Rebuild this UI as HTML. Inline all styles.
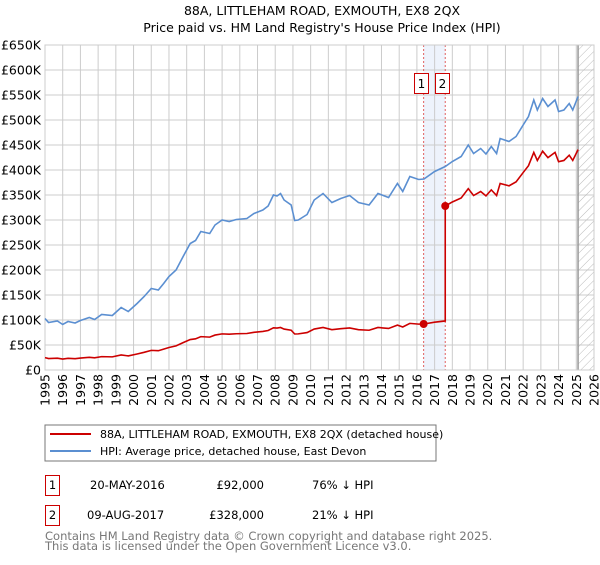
<!DOCTYPE html>
<html><head><meta charset="utf-8"><style>
body{margin:0;background:#fff;font-family:"Liberation Sans","DejaVu Sans",sans-serif;}
</style></head><body>
<svg id="c" width="600" height="560" xmlns="http://www.w3.org/2000/svg" font-family="DejaVu Sans, Liberation Sans, sans-serif">
<defs>
<pattern id="hatch" width="6" height="6" patternUnits="userSpaceOnUse" patternTransform="rotate(45)"><line x1="0" y1="0" x2="0" y2="6" stroke="#bbb" stroke-width="1"/></pattern>
</defs>
<text x="322" y="15" text-anchor="middle" font-size="12.5">88A, LITTLEHAM ROAD, EXMOUTH, EX8 2QX</text>
<text x="322" y="32" text-anchor="middle" font-size="12.5">Price paid vs. HM Land Registry's House Price Index (HPI)</text>
<g id="grid"></g><g id="marks"></g><g id="axes"></g>
<rect x="45" y="425" width="391" height="36" fill="#fff" stroke="#777"/>
<line x1="50" y1="434" x2="91" y2="434" stroke="#cc0000" stroke-width="2"/>
<text x="100" y="438" font-size="11">88A, LITTLEHAM ROAD, EXMOUTH, EX8 2QX (detached house)</text>
<line x1="50" y1="451" x2="91" y2="451" stroke="#5b8fd1" stroke-width="2"/>
<text x="100" y="455" font-size="11">HPI: Average price, detached house, East Devon</text>
<g font-size="11.5">
<rect x="45.5" y="475.5" width="14" height="20" fill="none" stroke="#cc0000"/>
<text x="52.5" y="489" text-anchor="middle">1</text>
<text x="90" y="489">20-MAY-2016</text>
<text x="264" y="489" text-anchor="end">£92,000</text>
<text x="312" y="489">76% ↓ HPI</text>
<rect x="45.5" y="505.5" width="14" height="20" fill="none" stroke="#cc0000"/>
<text x="52.5" y="519" text-anchor="middle">2</text>
<text x="87" y="519">09-AUG-2017</text>
<text x="264" y="519" text-anchor="end">£328,000</text>
<text x="312" y="519">21% ↓ HPI</text>
</g>
<text x="45" y="540" font-size="11.5" fill="#777">Contains HM Land Registry data © Crown copyright and database right 2025.</text>
<text x="45" y="550" font-size="11.5" fill="#777">This data is licensed under the Open Government Licence v3.0.</text>
</svg>
<script>
const hpiYears=[1995,1995.2,1995.7,1996,1996.3,1996.7,1997,1997.5,1997.8,1998.2,1998.8,1999.3,1999.7,2000.2,2000.6,2001,2001.4,2001.7,2002,2002.4,2002.8,2003.2,2003.5,2003.8,2004.3,2004.6,2005,2005.4,2005.8,2006.4,2006.8,2007.3,2007.6,2007.9,2008.1,2008.3,2008.5,2008.9,2009.1,2009.3,2009.8,2010.2,2010.7,2011.2,2011.7,2012.2,2012.7,2013.3,2013.8,2014.4,2014.9,2015.2,2015.6,2016.1,2016.4,2017,2017.6,2018,2018.5,2018.9,2019.2,2019.6,2019.9,2020.2,2020.5,2020.7,2021.2,2021.6,2022,2022.3,2022.6,2022.8,2023.1,2023.4,2023.8,2024,2024.3,2024.6,2024.8,2025.1];
const hpiValues=[103,95,98,91,97,94,99,105,101,111,109,125,117,133,147,163,160,173,187,200,227,253,259,277,273,290,300,297,301,303,313,320,328,350,348,353,340,330,299,300,311,340,353,335,343,349,335,330,353,345,373,357,387,381,382,397,407,417,427,450,433,443,432,447,433,463,457,467,490,507,540,520,543,527,540,517,520,533,520,547];
const saleYears=[2016.38,2017.6];
const salePrices=[92,328];
const saleLabels=["1","2"];
const yTicks=[0,50,100,150,200,250,300,350,400,450,500,550,600,650];
const yTickLabels=["£0","£50K","£100K","£150K","£200K","£250K","£300K","£350K","£400K","£450K","£500K","£550K","£600K","£650K"];
const xTicks=[1995,1996,1997,1998,1999,2000,2001,2002,2003,2004,2005,2006,2007,2008,2009,2010,2011,2012,2013,2014,2015,2016,2017,2018,2019,2020,2021,2022,2023,2024,2025,2026];
const dataEnd=2025.1;

const X0=45,X1=594,Y0=370,Y1=45,xmin=1995,xmax=2026,ymax=650;
const sx=v=>X0+(v-xmin)/(xmax-xmin)*(X1-X0);
const sy=v=>Y0-v/ymax*(Y0-Y1);
const NS="http://www.w3.org/2000/svg";
function mk(tag,attrs,parent){const e=document.createElementNS(NS,tag);for(const k in attrs)e.setAttribute(k,attrs[k]);parent.appendChild(e);return e;}
const grid=document.getElementById('grid'),marks=document.getElementById('marks'),axes=document.getElementById('axes');
let sh=mk('rect',{x:sx(saleYears[0]),y:Y1,width:sx(saleYears[1])-sx(saleYears[0]),height:Y0-Y1,fill:'#eef3fc'},grid);


yTicks.forEach((t,i)=>{
 let l=mk('line',{x1:X0,x2:X1,y1:sy(t),y2:sy(t),stroke:'#ccc'},grid);
 
 
 let tx=mk('text',{x:X0-4,y:sy(t)+4.5,'text-anchor':'end','font-size':'12.5'},axes);
 tx.textContent=yTickLabels[i];
 
 
});
xTicks.forEach(t=>{
 let l=mk('line',{x1:sx(t),x2:sx(t),y1:Y1,y2:Y0,stroke:'#ccc'},grid);
 
 
 let tx=mk('text',{x:0,y:0,'text-anchor':'end','font-size':'12.5',transform:`translate(${sx(t)+4.5},374) rotate(-90)`},axes);
 tx.textContent=t;
 
 
});
let ht=mk('rect',{x:sx(dataEnd),y:Y1,width:X1-sx(dataEnd),height:Y0-Y1,fill:'url(#hatch)'},grid);


let el=mk('line',{x1:sx(dataEnd),x2:sx(dataEnd),y1:Y1,y2:Y0,stroke:'#999','stroke-width':1.5},grid);


saleYears.forEach((y,i)=>{
 let l=mk('line',{x1:sx(y),x2:sx(y),y1:Y1,y2:Y0,stroke:'#e06060','stroke-dasharray':'2,2'},grid);
 
 
});
function hpiAt(y){for(let i=1;i<hpiYears.length;i++){if(y<=hpiYears[i]){const t=(y-hpiYears[i-1])/(hpiYears[i]-hpiYears[i-1]);return hpiValues[i-1]+t*(hpiValues[i]-hpiValues[i-1]);}}return hpiValues[hpiValues.length-1];}
let hp=mk('polyline',{points:hpiYears.map((y,i)=>sx(y)+','+sy(hpiValues[i])).join(' '),fill:'none',stroke:'#5b8fd1','stroke-width':1.6},marks);


const r0=salePrices[0]/hpiAt(saleYears[0]),r1=salePrices[1]/hpiAt(saleYears[1]);
let pts=[];
hpiYears.forEach((y,i)=>{if(y<saleYears[1])pts.push([y,hpiValues[i]*r0]);});
pts.push([saleYears[1],hpiAt(saleYears[1])*r0]);
pts.push([saleYears[1],salePrices[1]]);
hpiYears.forEach((y,i)=>{if(y>saleYears[1])pts.push([y,hpiValues[i]*r1]);});
let pl=mk('polyline',{points:pts.map(p=>sx(p[0])+','+sy(p[1])).join(' '),fill:'none',stroke:'#cc0000','stroke-width':1.6},marks);


saleYears.forEach((y,i)=>{
 let c=mk('circle',{cx:sx(y),cy:sy(salePrices[i]),r:4,fill:'#cc0000'},marks);
 
 
 let b=mk('rect',{x:Math.round(sx(y))-9.5,y:73.5,width:14,height:20,fill:'#fff',stroke:'#cc0000'},marks);
 
 
 let t=mk('text',{x:Math.round(sx(y))-2.5,y:88,'text-anchor':'middle','font-size':'12'},marks);
 t.textContent=saleLabels[i];
 
 
});
let fr=mk('rect',{x:X0,y:Y1,width:X1-X0,height:Y0-Y1,fill:'none',stroke:'#ccc'},grid);


</script>
</body></html>
